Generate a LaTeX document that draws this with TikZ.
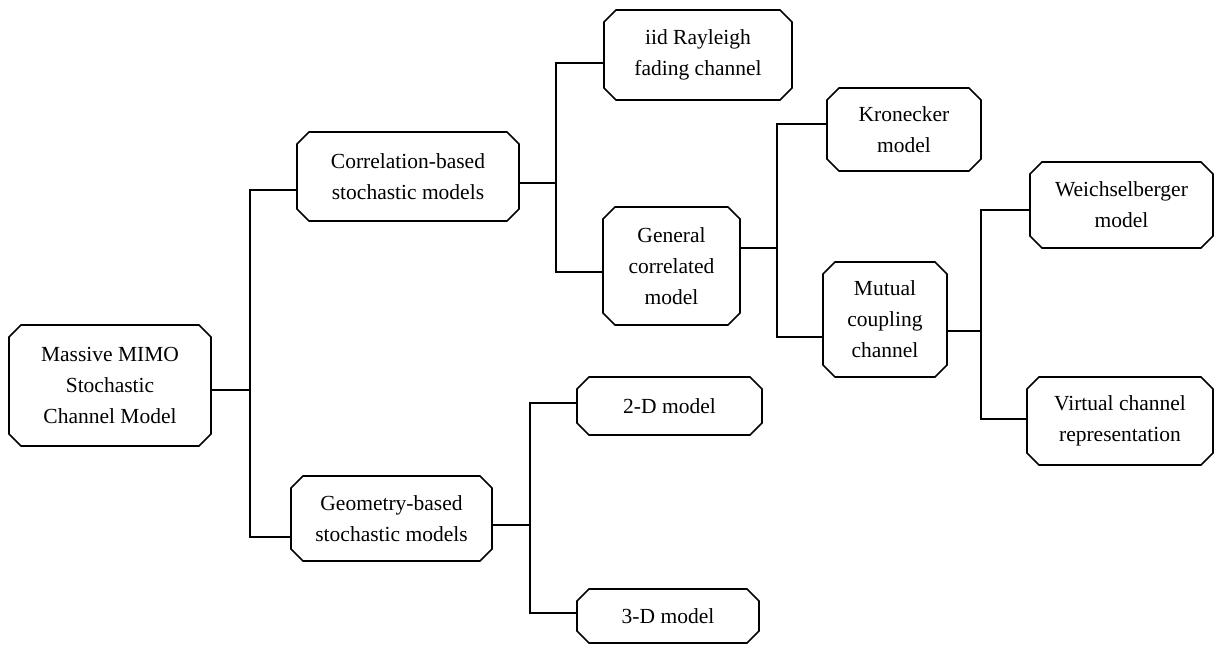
\documentclass[tikz,border=0pt]{standalone}
\usepackage{fontspec}
\setmainfont{Liberation Serif}
\usetikzlibrary{shapes.misc}
\begin{document}
\begin{tikzpicture}[x=1pt,y=-1pt,
  box/.style={draw, line width=1.7pt, chamfered rectangle, chamfered rectangle xsep=6pt, chamfered rectangle ysep=6pt,
    inner sep=0pt, outer sep=0pt, align=center, font=\fontsize{21.5}{31}\selectfont},
  link/.style={line width=1.7pt}]
\useasboundingbox (0,0) rectangle (1215,645);
% nodes
\node[box, minimum width=202pt, minimum height=121pt] (root) at (110,385.5) {Massive MIMO\\Stochastic\\Channel Model};
\node[box, minimum width=222pt, minimum height=89pt] (corr) at (408,176.5) {Correlation-based\\stochastic models};
\node[box, minimum width=201pt, minimum height=85pt] (geom) at (391.5,518.5) {Geometry-based\\stochastic models};
\node[box, minimum width=188pt, minimum height=90pt] (iid) at (698,55) {iid Rayleigh\\fading channel};
\node[box, minimum width=137pt, minimum height=118pt] (gen) at (671.5,266) {General\\correlated\\model};
\node[box, minimum width=185pt, minimum height=58pt] (twod) at (669.5,406) {2-D model};
\node[box, minimum width=182pt, minimum height=54pt] (threed) at (668,616) {3-D model};
\node[box, minimum width=154pt, minimum height=83pt] (kron) at (904,129.5) {Kronecker\\model};
\node[box, minimum width=124pt, minimum height=115pt] (mut) at (885,319.5) {Mutual\\coupling\\channel};
\node[box, minimum width=183pt, minimum height=86pt] (weich) at (1121.5,205) {Weichselberger\\model};
\node[box, minimum width=186pt, minimum height=88pt] (virt) at (1120,421) {Virtual channel\\representation};
% junction coordinates
\coordinate (j1) at (250,390);
\coordinate (j1t) at (250,190);
\coordinate (j1b) at (250,537);
\coordinate (j2) at (556,183);
\coordinate (j2t) at (556,63);
\coordinate (j2b) at (556,272);
\coordinate (j3) at (777,248);
\coordinate (j3t) at (777,124);
\coordinate (j3b) at (777,337);
\coordinate (j4) at (981,331);
\coordinate (j4t) at (981,210);
\coordinate (j4b) at (981,419);
\coordinate (j5) at (530,525);
\coordinate (j5t) at (530,403);
\coordinate (j5b) at (530,613);
% connectors
\draw[link] (root.east |- j1) -- (j1);
\draw[link] (corr.west |- j1t) -- (j1t) -- (j1b) -- (geom.west |- j1b);
\draw[link] (corr.east |- j2) -- (j2);
\draw[link] (iid.west |- j2t) -- (j2t) -- (j2b) -- (gen.west |- j2b);
\draw[link] (gen.east |- j3) -- (j3);
\draw[link] (kron.west |- j3t) -- (j3t) -- (j3b) -- (mut.west |- j3b);
\draw[link] (mut.east |- j4) -- (j4);
\draw[link] (weich.west |- j4t) -- (j4t) -- (j4b) -- (virt.west |- j4b);
\draw[link] (geom.east |- j5) -- (j5);
\draw[link] (twod.west |- j5t) -- (j5t) -- (j5b) -- (threed.west |- j5b);
\end{tikzpicture}
\end{document}
